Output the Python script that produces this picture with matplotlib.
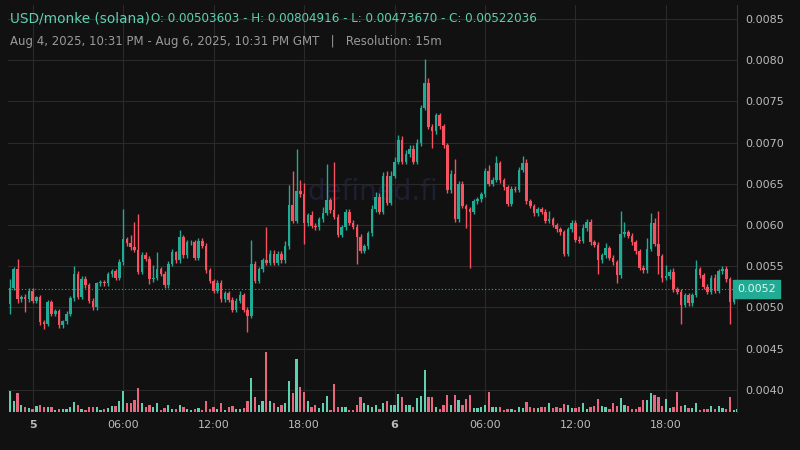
import matplotlib
matplotlib.use("Agg")
import matplotlib.pyplot as plt

# closes in 1e-5 units, 15m candles from Aug 4 22:30 to Aug 6 22:30
first_open = 503.603
closes = [524,546,510,513,510,520,508,512,482,480,506,492,495,478,483,492,511,541,513,535,527,508,500,529,531,529,540,544,536,555,583,578,
          573,570,543,564,559,534,536,546,541,527,553,567,557,585,563,579,579,560,581,575,545,532,520,530,510,517,509,497,508,515,497,490,
          553,532,546,557,554,565,554,565,557,574,624,605,641,637,602,612,599,597,607,615,630,618,610,588,597,616,603,598,586,569,574,590,
          619,634,616,659,627,660,677,703,677,686,692,677,699,742,772,719,714,733,720,697,642,662,607,650,623,619,616,629,631,637,666,650,
          655,675,654,646,626,644,643,667,675,629,623,614,619,616,605,607,600,595,591,565,595,603,582,581,596,604,579,576,557,563,572,560,
          555,539,589,591,587,579,568,548,545,571,603,577,562,536,538,543,522,519,503,515,505,515,546,539,525,519,536,520,544,547,534,507,519,522.036]
up_wick = [10,3,13,2,3,3,3,2,3,3,3,3,3,3,2,3,3,9,3,3,3,3,3,2,2,2,3,3,3,4,37,3,
           10,31,43,3,3,3,16,21,3,3,3,4,2,9,3,3,3,3,3,3,3,3,3,3,3,3,3,3,3,5,3,3,
           29,3,3,3,40,5,5,3,3,7,24,41,51,14,14,3,5,3,3,7,44,3,58,3,3,3,3,3,3,3,3,3,
           5,6,5,5,6,5,5,6,5,5,5,5,5,4,30,7,3,3,3,3,3,5,18,3,3,3,3,3,3,3,3,7,
           3,9,3,3,3,3,3,3,9,5,3,3,3,3,3,10,3,3,3,3,3,3,3,5,5,3,3,3,3,3,6,3,
           3,3,28,13,3,3,3,3,3,13,12,6,40,3,13,3,5,3,3,3,3,3,11,3,3,3,3,5,3,3,3,3,3,3]
dn_wick = [12,3,5,3,16,3,3,3,3,6,3,3,3,3,3,3,3,3,3,3,3,3,3,3,3,3,3,3,3,3,3,3,
           3,3,3,3,3,6,3,3,3,3,3,3,3,3,3,3,3,3,3,3,3,3,3,3,3,3,3,3,3,3,3,20,
           3,3,3,3,3,3,3,3,3,3,3,3,3,3,25,3,3,3,3,3,3,3,3,3,3,3,3,3,33,3,3,3,
           3,3,3,3,3,3,3,3,3,3,3,3,3,3,3,3,21,3,3,3,3,3,3,3,3,23,68,3,3,3,3,3,
           3,3,3,3,3,3,3,3,3,3,3,3,3,3,3,3,3,3,3,3,3,3,3,3,3,3,3,3,16,3,3,3,
           3,10,3,3,3,3,3,3,3,3,3,3,22,5,3,3,3,3,23,3,3,3,3,3,3,3,3,3,3,3,3,27,3,3]
volumes = [21,11,19,7,5,4,3,6,7,5,5,5,2,3,3,3,5,10,7,3,2,5,5,5,2,3,4,6,6,11,
           21,9,9,12,24,9,5,7,5,9,2,4,7,3,3,7,5,3,2,3,4,2,11,3,5,3,9,2,5,6,
           3,3,4,11,34,15,7,11,60,11,9,5,7,9,31,19,53,25,20,11,5,7,4,9,16,2,28,5,5,5,
           2,2,7,15,9,7,5,
           7,3,9,11,7,7,18,15,7,7,5,14,16,42,15,15,5,3,7,17,7,17,12,7,13,17,4,4,5,7,
           20,5,5,5,2,3,3,2,5,4,10,5,4,4,5,5,9,4,5,4,8,7,4,4,5,9,3,5,6,13,
           6,5,3,9,6,14,7,6,3,3,5,12,12,19,17,15,6,13,4,5,20,6,7,4,4,9,2,3,3,6,
           3,6,4,3,15,2,3]
tick_pos = [6, 30, 54, 78, 102, 126, 150, 174]
tick_labels = ["5", "06:00", "12:00", "18:00", "6", "06:00", "12:00", "18:00"]
price_ticks = [0.0040, 0.0045, 0.0050, 0.0055, 0.0060, 0.0065, 0.0070, 0.0075, 0.0080, 0.0085]

UP = "#22ab94"
DOWN = "#f7525f"
BG = "#111111"
GRID = "#2a2a2a"

opens = [first_open] + closes[:-1]
fig = plt.figure(figsize=(8, 4.5), dpi=100, facecolor=BG)
ax = fig.add_axes([8/800, 38/450, 729/800, 407/450])
ax.set_facecolor(BG)
vax = ax.twinx()
vax.set_ylim(0, 407)
vax.axis("off")

for i in range(len(closes)):
    o = opens[i] * 1e-5
    c = closes[i] * 1e-5
    col = UP if c >= o else DOWN
    hi = max(o, c) + up_wick[i] * 1e-5
    lo = min(o, c) - dn_wick[i] * 1e-5
    ax.vlines(i, lo, hi, color=col, lw=1, zorder=3)
    ax.bar(i, max(abs(c - o), 0.6e-5), bottom=min(o, c), width=0.68, color=col, zorder=3)
    vax.bar(i, volumes[i], width=0.6, color="#5fd0b0" if c >= o else "#e8677f", zorder=2)

ax.set_xlim(-0.53, 192.85)
ax.set_ylim(0.00373, 0.00867)
ax.set_xticks(tick_pos)
ax.set_xticklabels(tick_labels)
for t, lab in zip(ax.get_xticklabels(), tick_labels):
    if lab in ("5", "6"):
        t.set_fontweight("bold")
ax.set_yticks(price_ticks)
ax.set_yticklabels([f"{p:.4f}" for p in price_ticks])
ax.yaxis.tick_right()
ax.tick_params(colors="#bbbbbb", labelsize=8, length=0, pad=6)
ax.grid(True, color=GRID, lw=0.8, zorder=0)
for s in ["top", "left", "bottom"]:
    ax.spines[s].set_visible(False)
ax.spines["right"].set_color("#333333")

last = closes[-1] * 1e-5
ax.axhline(last, color=UP, lw=0.8, ls=(0, (1, 2)), zorder=4)
ax.text(1.0, last, "0.0052", transform=ax.get_yaxis_transform(), ha="left", va="center",
        fontsize=8, color="#e0f5f0", bbox=dict(boxstyle="square,pad=0.35", fc=UP, ec=UP), zorder=5)

ax.text(0.5, 0.54, "defined.fi", transform=ax.transAxes, ha="center", va="center",
        fontsize=20, color="#1e1e34", zorder=1)

fig.text(10/800, 1 - 19/450, "USD/monke (solana)", color="#5fd0b0", fontsize=9.8, va="center")
fig.text(151/800, 1 - 19/450, "O: 0.00503603 - H: 0.00804916 - L: 0.00473670 - C: 0.00522036",
         color="#5fd0b0", fontsize=8.6, va="center")
fig.text(10/800, 1 - 41/450, "Aug 4, 2025, 10:31 PM - Aug 6, 2025, 10:31 PM GMT   |   Resolution: 15m",
         color="#9a9a9a", fontsize=8.5, va="center")

fig.savefig("out.png", dpi=100, facecolor=BG)
